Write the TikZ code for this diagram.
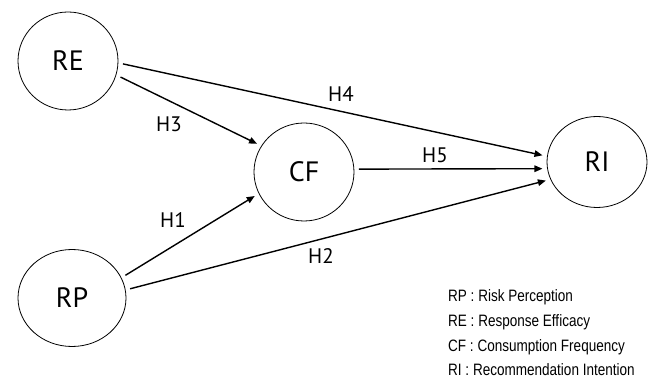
\documentclass[tikz,border=0pt]{standalone}
\usepackage{fontspec}
\setmainfont{PT Sans}
\newfontfamily\keyfont[FakeStretch=0.82]{Liberation Sans}
\usetikzlibrary{arrows.meta, positioning, shapes.geometric}

\begin{document}
\begin{tikzpicture}
	[x=1pt, y=-1pt,
	construct/.style={draw, ellipse, line width=0.8pt, minimum width=100pt, minimum height=98pt, inner sep=0pt, outer sep=5pt, font=\fontsize{28}{32}\selectfont},
	hyp/.style={line width=1.4pt, -{Triangle[length=8pt, width=6.5pt]}},
	hlabel/.style={font=\fontsize{21}{24}\selectfont, inner sep=0pt},
	legend/.style={font=\keyfont\fontsize{16.5}{19}\selectfont, inner sep=0pt, anchor=base west}]
	\useasboundingbox (0,0) rectangle (654,379);

	\node[construct] (re) at (68,61) {RE};
	\node[construct, minimum width=108pt, minimum height=97pt] (rp) at (72,298) {RP};
	\node[construct] (cf) at (304,172) {CF};
	\node[construct, minimum height=91pt] (ri) at (597,162) {RI};

	\draw[hyp] (re.-3) -- (ri.173);
	\draw[hyp] (re.-17) -- (cf.149);
	\draw[hyp] (cf.3) -- (ri.187);
	\draw[hyp] (rp.23) -- (cf.206);
	\draw[hyp] (rp.9) -- (ri.200);

	\node[hlabel] (h1) at (173,220) {H1};
	\node[hlabel] (h2) at (321,256) {H2};
	\node[hlabel] (h3) at (169,124) {H3};
	\node[hlabel] (h4) at (341,94) {H4};
	\node[hlabel] (h5) at (435,155) {H5};

	% legend
	\node[legend] (keyrp) at (448,302) {RP : Risk Perception};
	\node[legend, below=25pt of keyrp.base west, anchor=base west] (keyre) {RE : Response Efficacy};
	\node[legend, below=25pt of keyre.base west, anchor=base west] (keycf) {CF : Consumption Frequency};
	\node[legend, below=24pt of keycf.base west, anchor=base west] (keyri) {RI : Recommendation Intention};
\end{tikzpicture}
\end{document}
